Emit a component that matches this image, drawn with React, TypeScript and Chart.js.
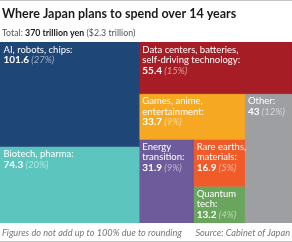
import React, { useEffect, useRef } from "react";
import { Chart, registerables } from "chart.js";

Chart.register(...registerables);

// ---- data ----
const categories = [
  "AI, robots, chips",
  "Biotech, pharma",
  "Data centers, batteries, self-driving technology",
  "Games, anime, entertainment",
  "Energy transition",
  "Rare earths, materials",
  "Quantum tech",
  "Other",
];
const labelLines = [
  ["AI, robots, chips:"],
  ["Biotech, pharma:"],
  ["Data centers, batteries,", "self-driving technology:"],
  ["Games, anime,", "entertainment:"],
  ["Energy", "transition:"],
  ["Rare earths,", "materials:"],
  ["Quantum", "tech:"],
  ["Other:"],
];
const values = [101.6, 74.3, 55.4, 33.7, 31.9, 16.9, 13.2, 43];
const valueLabels = ["101.6", "74.3", "55.4", "33.7", "31.9", "16.9", "13.2", "43"];
const percents = [27, 20, 15, 9, 9, 5, 4, 12];
const colors = [
  "#1e4676",
  "#5cc6be",
  "#a61d25",
  "#f6a823",
  "#6e5b9b",
  "#f15b2a",
  "#69a55c",
  "#9e9fa3",
];
const titleText = "Where Japan plans to spend over 14 years";
const totalParts = ["Total: ", "370 trillion yen", " ($2.3 trillion)"];
const footLeft = "Figures do not add up to 100% due to rounding";
const footRight = "Source: Cabinet of Japan";

// treemap structure (indices into the arrays above); sizes come from values
type Node = number | { dir: "x" | "y"; children: Node[] };
const tree: Node = {
  dir: "x",
  children: [
    { dir: "y", children: [0, 1] },
    {
      dir: "y",
      children: [
        2,
        {
          dir: "x",
          children: [
            { dir: "y", children: [3, { dir: "x", children: [4, { dir: "y", children: [5, 6] }] }] },
            7,
          ],
        },
      ],
    },
  ],
};

function nodeSum(n: Node): number {
  if (typeof n === "number") return values[n];
  return n.children.reduce((s, c) => s + nodeSum(c), 0);
}

type Rect = { x0: number; y0: number; x1: number; y1: number };
function layout(n: Node, r: Rect, out: Rect[]) {
  if (typeof n === "number") {
    out[n] = r;
    return;
  }
  const total = nodeSum(n);
  let pos = n.dir === "x" ? r.x0 : r.y0;
  const span = n.dir === "x" ? r.x1 - r.x0 : r.y1 - r.y0;
  for (const c of n.children) {
    const len = (span * nodeSum(c)) / total;
    if (n.dir === "x") layout(c, { x0: pos, y0: r.y0, x1: pos + len, y1: r.y1 }, out);
    else layout(c, { x0: r.x0, y0: pos, x1: r.x1, y1: pos + len }, out);
    pos += len;
  }
}

const FONT = "Lato, 'Open Sans', sans-serif";

export default function App() {
  const ref = useRef<HTMLCanvasElement | null>(null);
  useEffect(() => {
    document.body.style.margin = "0";
    const rects: Rect[] = [];
    layout(tree, { x0: 0, y0: 0, x1: 1, y1: 1 }, rects);

    const datasets = rects.map((r, i) => ({
      label: categories[i],
      data: [
        { x: r.x0, y: r.y0 },
        { x: r.x1, y: r.y0 },
        { x: r.x1, y: r.y1 },
        { x: r.x0, y: r.y1 },
        { x: r.x0, y: r.y0 },
      ],
      showLine: true,
      fill: "shape",
      backgroundColor: colors[i],
      borderColor: colors[i],
      borderWidth: 0.6,
      pointRadius: 0,
      pointHoverRadius: 0,
      tension: 0,
    }));

    const textPlugin = {
      id: "texts",
      afterDatasetsDraw(chart: any) {
        const ctx = chart.ctx as CanvasRenderingContext2D;
        const xs = chart.scales.x;
        const ys = chart.scales.y;
        ctx.save();
        ctx.textBaseline = "alphabetic";
        ctx.textAlign = "left";
        rects.forEach((r, i) => {
          const px = xs.getPixelForValue(r.x0);
          const py = ys.getPixelForValue(r.y0);
          let y = py + 10.5;
          const x = px + 3.5;
          ctx.fillStyle = "#ffffff";
          ctx.font = `400 9.5px ${FONT}`;
          for (const l of labelLines[i]) {
            ctx.fillText(l, x, y);
            y += 10.5;
          }
          ctx.font = `700 10px ${FONT}`;
          ctx.fillStyle = "#ffffff";
          ctx.fillText(valueLabels[i], x, y);
          const w = ctx.measureText(valueLabels[i]).width;
          ctx.font = `italic 400 9.5px ${FONT}`;
          ctx.fillStyle = "rgba(255,255,255,0.55)";
          ctx.fillText(` (${percents[i]}%)`, x + w, y);
        });
        ctx.restore();
      },
      afterDraw(chart: any) {
        const ctx = chart.ctx as CanvasRenderingContext2D;
        const W = chart.width;
        const H = chart.height;
        ctx.save();
        ctx.fillStyle = "#c4c4c4";
        ctx.fillRect(0, 0, W, 1);
        ctx.fillRect(0, H - 1, W, 1);
        ctx.textBaseline = "alphabetic";
        ctx.textAlign = "left";
        ctx.fillStyle = "#1a1a1a";
        ctx.font = `700 12.5px ${FONT}`;
        ctx.fillText(titleText, 2, 17.5);
        let x = 2;
        const fonts = [`400 8.8px ${FONT}`, `700 8.8px ${FONT}`, `400 8.8px ${FONT}`];
        const cols = ["#555", "#1a1a1a", "#555"];
        totalParts.forEach((t, i) => {
          ctx.font = fonts[i];
          ctx.fillStyle = cols[i];
          ctx.fillText(t, x, 36);
          x += ctx.measureText(t).width;
        });
        ctx.font = `italic 400 9.2px ${FONT}`;
        ctx.fillStyle = "#777";
        ctx.fillText(footLeft, 2, 236);
        ctx.textAlign = "right";
        ctx.fillText(footRight, W - 2, 236);
        ctx.restore();
      },
    };

    const chart = new Chart(ref.current!, {
      type: "scatter",
      data: { datasets: datasets as any },
      options: {
        animation: false,
        responsive: false,
        events: [],
        layout: { padding: { top: 42, bottom: 19, left: 0, right: 0 } },
        scales: {
          x: { type: "linear", min: 0, max: 1, display: false },
          y: { type: "linear", min: 0, max: 1, reverse: true, display: false },
        },
        plugins: {
          legend: { display: false },
          tooltip: { enabled: false },
        },
      },
      plugins: [textPlugin],
    });
    return () => chart.destroy();
  }, []);
  return <canvas ref={ref} width={292} height={242} style={{ display: "block" }} />;
}
